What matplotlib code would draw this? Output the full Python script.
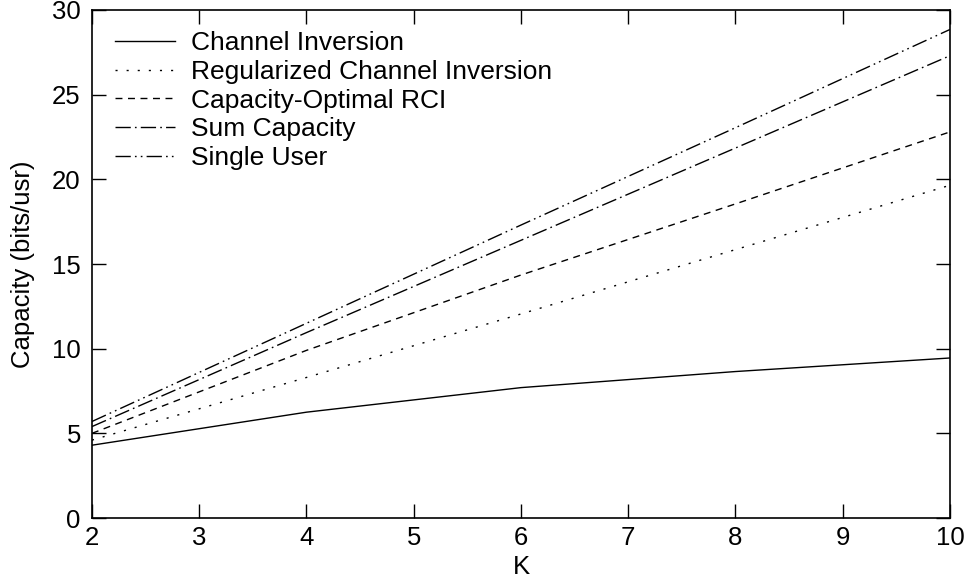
import matplotlib.pyplot as plt
import numpy as np

plt.rcParams['font.family'] = ['Liberation Sans', 'DejaVu Sans']

K = [2, 4, 6, 8, 10]
ci = [4.3, 6.25, 7.7, 8.65, 9.45]
rci = [4.6, 8.3, 12.05, 15.85, 19.65]
opt_rci = [5.0, 9.9, 14.35, 18.55, 22.8]
sum_cap = [5.4, 10.95, 16.4, 21.85, 27.3]
single = [5.7, 11.5, 17.3, 23.05, 28.85]

fig = plt.figure(figsize=(9.67, 5.81), dpi=100)
ax = fig.add_axes([0.0951, 0.1084, 0.8873, 0.8744])

lw = 1.0
ax.plot(K, ci, color='black', lw=lw, linestyle='-', label='Channel Inversion')
ax.plot(K, rci, color='black', lw=lw, linestyle=(0, (1.5, 6.5)), label='Regularized Channel Inversion')
ax.plot(K, opt_rci, color='black', lw=lw, linestyle=(0, (5, 4)), label='Capacity-Optimal RCI')
ax.plot(K, sum_cap, color='black', lw=lw, linestyle=(0, (11, 3, 1.2, 3)), label='Sum Capacity')
ax.plot(K, single, color='black', lw=lw, linestyle=(0, (11, 3, 1.2, 3, 1.2, 3)), label='Single User')

fs = 18.5
ax.set_xlim(2, 10)
ax.set_ylim(0, 30)
ax.set_xticks(np.arange(2, 11, 1))
ax.set_yticks(np.arange(0, 31, 5))
ax.tick_params(direction='in', length=10, width=1, top=True, right=True, labelsize=fs)
ax.tick_params(axis='x', pad=6)
ax.tick_params(axis='y', pad=8)
ax.set_xlabel('K', fontsize=fs, labelpad=3)
ax.set_ylabel('Capacity (bits/usr)', fontsize=fs, labelpad=12)
for s in ax.spines.values():
    s.set_linewidth(1.2)

leg = ax.legend(loc='upper left', frameon=False, fontsize=19, handlelength=2.3,
                handletextpad=0.6, labelspacing=0.18, borderaxespad=0.3,
                bbox_to_anchor=(0.005, 0.995))

fig.savefig('out.png', dpi=100)
